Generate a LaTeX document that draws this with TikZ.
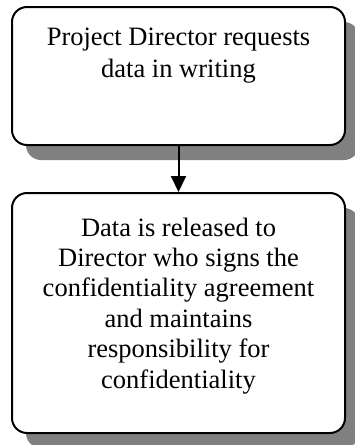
\documentclass[tikz,border=0pt]{standalone}
\usepackage{fontspec}
\setmainfont{Liberation Serif}
\usetikzlibrary{arrows.meta,shadows}

\tikzset{
  stepbox/.style={draw=black, line width=2pt, fill=white, rounded corners=15pt,
    minimum width=333pt, inner sep=0pt,
    drop shadow={shadow xshift=14pt, shadow yshift=-15pt, fill=black!50, opacity=1}},
  boxtext/.style={anchor=north, inner sep=0pt, align=center},
  flow/.style={line width=2pt, -{Triangle[width=15pt,length=16pt]}}
}

\begin{document}
\begin{tikzpicture}[x=1pt,y=-1pt]
  \useasboundingbox (0,0) rectangle (355,445);

  % process steps
  \node[stepbox, minimum height=138pt] (request) at (178.5,76) {};
  \node[stepbox, minimum height=240pt] (release) at (178.5,313) {};

  % step descriptions
  \node[boxtext, font=\fontsize{26.5pt}{32pt}\selectfont] (requesttext) at (178.5,27.5)
    {Project Director requests\\data in writing};
  \node[boxtext, font=\fontsize{26.5pt}{30.4pt}\selectfont] (releasetext) at (178.5,217.5)
    {Data is released to\\Director who signs the\\confidentiality agreement\\and maintains\\responsibility for\\confidentiality};

  % flow
  \draw[flow] (request.south) -- (release.north);
\end{tikzpicture}
\end{document}
